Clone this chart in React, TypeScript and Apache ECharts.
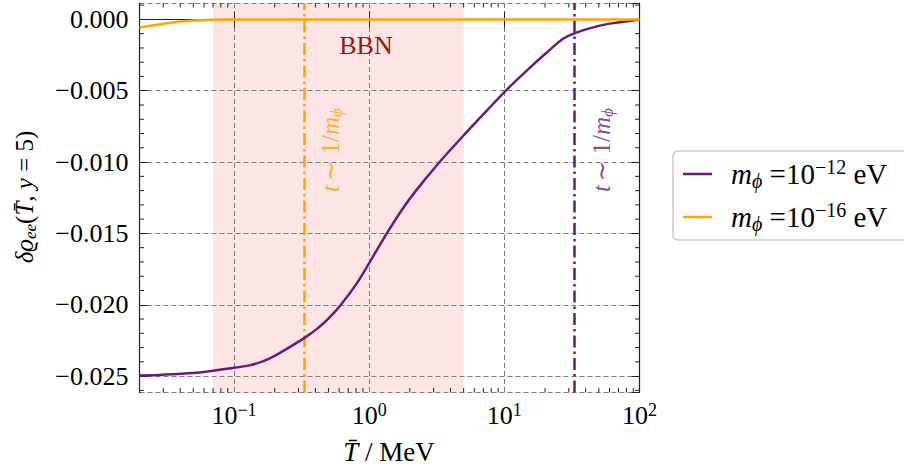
import React, { useEffect, useRef } from 'react';
import * as echarts from 'echarts';

// ---- data ----
const T_PURPLE = [0.02, 0.03, 0.05, 0.07, 0.092, 0.13, 0.165, 0.2, 0.26, 0.341, 0.42, 0.514, 0.61, 0.81, 1.0, 1.33, 1.77, 2.22, 3.31, 4.93, 6.37, 10.35, 15, 20.5, 27.2, 33.3, 48.2, 64, 100];
const V_PURPLE = [-0.02496, -0.0249, -0.02478, -0.02462, -0.02447, -0.02425, -0.02395, -0.02358, -0.02295, -0.02225, -0.02162, -0.02085, -0.02007, -0.0185, -0.01708, -0.0151, -0.01327, -0.012, -0.01001, -0.00819, -0.00706, -0.00495, -0.0035, -0.00234, -0.00136, -0.00096, -0.00049, -0.00026, 0];
const T_ORANGE = [0.02, 0.025, 0.03, 0.04, 0.05, 0.07, 0.1, 1, 10, 100];
const V_ORANGE = [-0.00056, -0.00042, -0.0003, -0.00014, -0.00007, -0.00002, 0, 0, 0, 0];
const BBN_RANGE = [0.07, 5];
const VLINE_ORANGE = 0.33;
const VLINE_PURPLE = 33;
const X_MINOR = [0.03, 0.04, 0.05, 0.06, 0.07, 0.08, 0.09, 0.2, 0.3, 0.4, 0.5, 0.6, 0.7, 0.8, 0.9, 2, 3, 4, 5, 6, 7, 8, 9, 20, 30, 40, 50, 60, 70, 80, 90];
const Y_MINOR = [-0.026, -0.024, -0.023, -0.022, -0.021, -0.019, -0.018, -0.017, -0.016, -0.014, -0.013, -0.012, -0.011, -0.009, -0.008, -0.007, -0.006, -0.004, -0.003, -0.002, -0.001, 0.001];
const X_MIN = 0.02;
const X_MAX = 100;
const Y_MIN = -0.02615;
const Y_MAX = 0.00115;

const PURPLE = '#6a1a78';
const ORANGE = '#ffa500';
const FONT = "'Liberation Serif', 'DejaVu Serif', serif";

function xLabel(v: number) {
  const l = Math.log10(v);
  const r = Math.round(l);
  if (Math.abs(l - r) > 1e-6) return '';
  return `{b|10}{s|${r < 0 ? '\u2212' : ''}${Math.abs(r)}}`;
}

function yLabel(v: number) {
  const k = Math.round(v / 0.005);
  if (Math.abs(v - k * 0.005) > 1e-9) return '';
  if (k === 0) return '0.000';
  return '\u2212' + Math.abs(k * 0.005).toFixed(3);
}

const tickRender = (horizontal: boolean) => (params: any, api: any) => {
  const cs = params.coordSys;
  const p = api.coord([api.value(0), api.value(1)]);
  const st = { stroke: '#222', lineWidth: 1 };
  const L = 4.5;
  if (horizontal) {
    const x = p[0];
    return {
      type: 'group',
      children: [
        { type: 'line', shape: { x1: x, y1: cs.y + cs.height, x2: x, y2: cs.y + cs.height - L }, style: st },
        { type: 'line', shape: { x1: x, y1: cs.y, x2: x, y2: cs.y + L }, style: st },
      ],
    };
  }
  const y = p[1];
  return {
    type: 'group',
    children: [
      { type: 'line', shape: { x1: cs.x, y1: y, x2: cs.x + L, y2: y }, style: st },
      { type: 'line', shape: { x1: cs.x + cs.width, y1: y, x2: cs.x + cs.width - L, y2: y }, style: st },
    ],
  };
};

function annotRich(color: string) {
  return {
    n: { fontFamily: FONT, fontSize: 25, fill: color, lineHeight: 30 },
    i: { fontFamily: FONT, fontSize: 25, fontStyle: 'italic', fill: color, lineHeight: 30 },
    s: { fontFamily: FONT, fontSize: 17, fontStyle: 'italic', fill: color, lineHeight: 16, verticalAlign: 'bottom' },
  };
}

export default function App() {
  const ref = useRef<HTMLDivElement>(null);
  useEffect(() => {
    const chart = echarts.init(ref.current!, null, { renderer: 'svg' });
    const axisBase = {
      axisLine: { show: true, lineStyle: { color: '#222', width: 1.2 } },
      axisTick: { show: true, inside: true, length: 8, lineStyle: { color: '#222', width: 1 } },
    };
    const legendRich = {
      n: { fontFamily: FONT, fontSize: 29, lineHeight: 34, color: '#000' },
      i: { fontFamily: FONT, fontSize: 29, fontStyle: 'italic', lineHeight: 34, color: '#000' },
      sup: { fontFamily: FONT, fontSize: 20, lineHeight: 22, verticalAlign: 'top', color: '#000' },
      sub: { fontFamily: FONT, fontSize: 20, fontStyle: 'italic', lineHeight: 18, verticalAlign: 'bottom', color: '#000' },
    };
    const gridLine = { show: true, lineStyle: { color: '#666', width: 1, type: [5, 3], opacity: 0.85 } };
    const option: any = {
      animation: false,
      backgroundColor: '#fff',
      grid: { left: 139.5, top: 3, width: 500, height: 389.5, containLabel: false },
      xAxis: [
        {
          type: 'log', logBase: 10, min: X_MIN, max: X_MAX, position: 'bottom',
          ...axisBase,
          axisLabel: {
            margin: 8, formatter: xLabel, showMinLabel: false,
            rich: {
              b: { fontFamily: FONT, fontSize: 26, lineHeight: 30, color: '#000' },
              s: { fontFamily: FONT, fontSize: 18, lineHeight: 17, verticalAlign: 'top', color: '#000' },
            },
          },
          splitLine: gridLine,
        },
        {
          type: 'log', logBase: 10, min: X_MIN, max: X_MAX, position: 'top',
          ...axisBase,
          axisLabel: { show: false },
          splitLine: { show: false },
        },
      ],
      yAxis: [
        {
          type: 'value', min: Y_MIN, max: Y_MAX, position: 'left',
          ...axisBase,
          axisLabel: { margin: 11, formatter: yLabel, fontFamily: FONT, fontSize: 26, color: '#000', showMinLabel: false, showMaxLabel: false },
          splitLine: gridLine,
        },
        {
          type: 'value', min: Y_MIN, max: Y_MAX, position: 'right',
          ...axisBase,
          axisLabel: { show: false },
          splitLine: { show: false },
        },
      ],
      legend: {
        data: ['m12', 'm16'],
        orient: 'vertical',
        left: 673, top: 151,
        padding: [6, 30, 6, 10],
        itemGap: 9,
        itemWidth: 29, itemHeight: 2.5,
        icon: 'rect',
        borderColor: '#cccccc', borderWidth: 1.5, borderRadius: 5,
        backgroundColor: '#fff',
        formatter: (name: string) =>
          `{i|m}{sub|\u03d5} {n|=10}{sup|\u2212${name === 'm12' ? '12' : '16'}}{n| eV}`,
        textStyle: { fontFamily: FONT, fontSize: 29, color: '#000', padding: [0, 0, 0, 14], rich: legendRich },
      },
      series: [
        {
          name: 'bbn', type: 'line', data: [], silent: true, z: 1,
          markArea: {
            silent: true,
            itemStyle: { color: 'rgba(245, 80, 80, 0.15)' },
            data: [[{ xAxis: BBN_RANGE[0] }, { xAxis: BBN_RANGE[1] }]],
          },
        },
        {
          name: 'm12', type: 'line', color: PURPLE, showSymbol: false, smooth: 0.3, z: 5,
          lineStyle: { width: 2.5, color: PURPLE },
          data: T_PURPLE.map((t, i) => [t, V_PURPLE[i]]),
          markLine: {
            silent: true, symbol: 'none', label: { show: false },
            lineStyle: { color: PURPLE, width: 2.5, type: [12, 4, 2.5, 4] },
            data: [{ xAxis: VLINE_PURPLE }],
          },
        },
        {
          name: 'm16', type: 'line', color: ORANGE, showSymbol: false, smooth: 0.3, z: 6,
          lineStyle: { width: 2.5, color: ORANGE },
          data: T_ORANGE.map((t, i) => [t, V_ORANGE[i]]),
          markLine: {
            silent: true, symbol: 'none', label: { show: false },
            lineStyle: { color: ORANGE, width: 2.5, type: [12, 4, 2.5, 4] },
            data: [{ xAxis: VLINE_ORANGE }],
          },
        },
        {
          name: 'xminor', type: 'custom', silent: true, z: 10,
          renderItem: tickRender(true),
          data: X_MINOR.map((v) => [v, -0.01]),
        },
        {
          name: 'yminor', type: 'custom', silent: true, z: 10,
          renderItem: tickRender(false),
          data: Y_MINOR.map((v) => [1, v]),
        },
      ],
      graphic: [
        {
          type: 'text', x: 366, y: 45, z: 20,
          style: { text: 'BBN', fontFamily: FONT, fontSize: 26, fill: '#9a1515', align: 'center', verticalAlign: 'middle' },
        },
        {
          type: 'text', x: 330, y: 150, rotation: Math.PI / 2, z: 20,
          style: {
            text: '{i|t} {n|\u223c 1/}{i|m}{s|\u03d5}', align: 'center', verticalAlign: 'middle', fill: 'rgba(255,165,0,0.85)',
            rich: annotRich('rgba(255,165,0,0.85)'),
          },
        },
        {
          type: 'text', x: 601, y: 150, rotation: Math.PI / 2, z: 20,
          style: {
            text: '{i|t} {n|\u223c 1/}{i|m}{s|\u03d5}', align: 'center', verticalAlign: 'middle', fill: 'rgba(106,26,120,0.8)',
            rich: annotRich('rgba(106,26,120,0.8)'),
          },
        },
        {
          type: 'text', x: 24, y: 197, rotation: Math.PI / 2, z: 20,
          style: {
            text: '{i|\u03b4\u03f1}{s|ee}{n|(}{i|T\u0304}{n|, }{i|y}{n| = 5)}', align: 'center', verticalAlign: 'middle', fill: '#000',
            rich: annotRich('#000'),
          },
        },
        {
          type: 'text', x: 389, y: 452, z: 20,
          style: {
            text: '{i|T\u0304}{n| / MeV}', align: 'center', verticalAlign: 'middle', fill: '#000',
            rich: {
              n: { fontFamily: FONT, fontSize: 27, fill: '#000', lineHeight: 30 },
              i: { fontFamily: FONT, fontSize: 27, fontStyle: 'italic', fill: '#000', lineHeight: 30 },
            },
          },
        },
      ],
    };
    chart.setOption(option);
    return () => chart.dispose();
  }, []);
  return <div ref={ref} style={{ position: 'absolute', left: 0, top: 0, width: 904, height: 473 }} />;
}
